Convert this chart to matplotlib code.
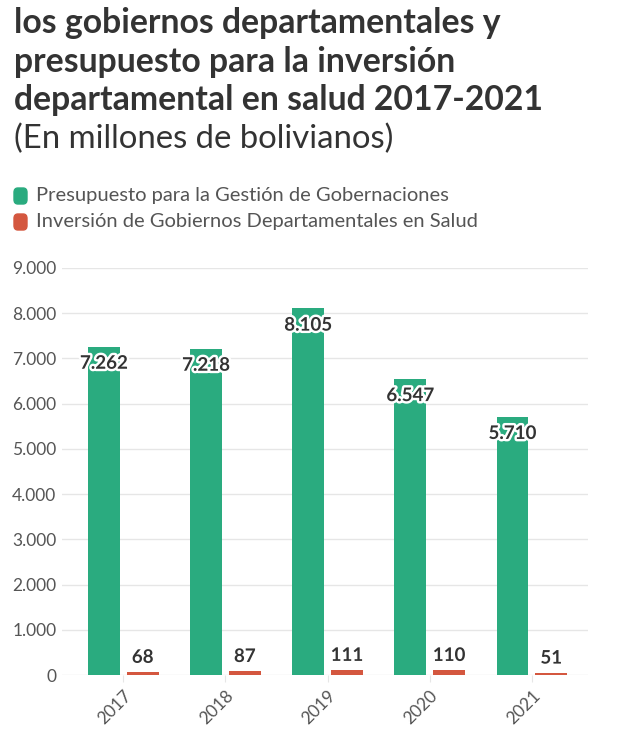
import matplotlib
matplotlib.use("Agg")
import matplotlib.pyplot as plt
import matplotlib.patheffects as pe
from matplotlib.patches import FancyBboxPatch
import numpy as np

years = ["2017", "2018", "2019", "2020", "2021"]
presupuesto = [7262, 7218, 8105, 6547, 5710]
inversion = [68, 87, 111, 110, 51]
yticks = [0, 1000, 2000, 3000, 4000, 5000, 6000, 7000, 8000, 9000]

title_lines = ["los gobiernos departamentales y",
               "presupuesto para la inversión",
               "departamental en salud 2017-2021"]
subtitle = "(En millones de bolivianos)"
legend_labels = ["Presupuesto para la Gestión de Gobernaciones",
                 "Inversión de Gobiernos Departamentales en Salud"]

GREEN = "#2aab7f"
RED = "#d4573f"
DARK = "#333333"
GREY = "#555555"

plt.rcParams['font.family'] = ['Lato', 'DejaVu Sans']

def fmt(v):
    return f"{v:,}".replace(",", ".")

fig = plt.figure(figsize=(6.4, 7.43), dpi=100)
ax = fig.add_axes([62/640, 1-675/743, (588-62)/640, (675-268)/743])

x = np.arange(len(years))
w = 0.31
gap = 0.07
gx = x - gap/2 - w/2
rx = x + gap/2 + w/2
ax.bar(gx, presupuesto, width=w, color=GREEN, zorder=3)
ax.bar(rx, inversion, width=w, color=RED, zorder=3)

stroke = [pe.withStroke(linewidth=3.5, foreground="white")]
for xi, v in zip(gx, presupuesto):
    ax.annotate(fmt(v), (xi, v), xytext=(0, -12), textcoords="offset points",
                ha="center", va="center", fontsize=13.5, fontweight="bold",
                color=DARK, path_effects=stroke, zorder=4)
for xi, v in zip(rx, inversion):
    ax.annotate(fmt(v), (xi, v), xytext=(0, 10.5), textcoords="offset points",
                ha="center", va="center", fontsize=13.5, fontweight="bold",
                color=DARK, path_effects=stroke, zorder=4)

ax.set_ylim(0, 9000)
ax.set_xlim(-0.6, 4.55)
ax.set_yticks(yticks)
ax.set_yticklabels([fmt(t) for t in yticks], fontsize=12.5, color=GREY)
ax.set_xticks(x)
ax.set_xticklabels(years, rotation=45, ha="right", rotation_mode="anchor",
                   fontsize=12.5, color=GREY)
ax.tick_params(axis="y", length=0, pad=4)
ax.tick_params(axis="x", length=5, color="#e6e6e6", pad=4)
ax.grid(axis="y", color="#e6e6e6", linewidth=1, zorder=0)
for s in ax.spines.values():
    s.set_visible(False)

# Title
ys = [23, 62, 100]
for line, yy in zip(title_lines, ys):
    fig.text(14/640, 1-yy/743, line, fontsize=24.3, fontweight="bold",
             color=DARK, ha="left", va="center")
fig.text(14/640, 1-139/743, subtitle, fontsize=23.7, color=DARK,
         ha="left", va="center")

# Legend
for lab, col, yy in zip(legend_labels, [GREEN, RED], [196, 222]):
    fig.patches.append(FancyBboxPatch((14/640, 1-(yy+8)/743), 13/640, 16/743,
                       boxstyle="round,pad=0,rounding_size=0.006",
                       transform=fig.transFigure, color=col))
    fig.text(36/640, 1-yy/743, lab, fontsize=14.5, color=GREY,
             ha="left", va="center")

fig.savefig("out.png", dpi=100, facecolor="white")
